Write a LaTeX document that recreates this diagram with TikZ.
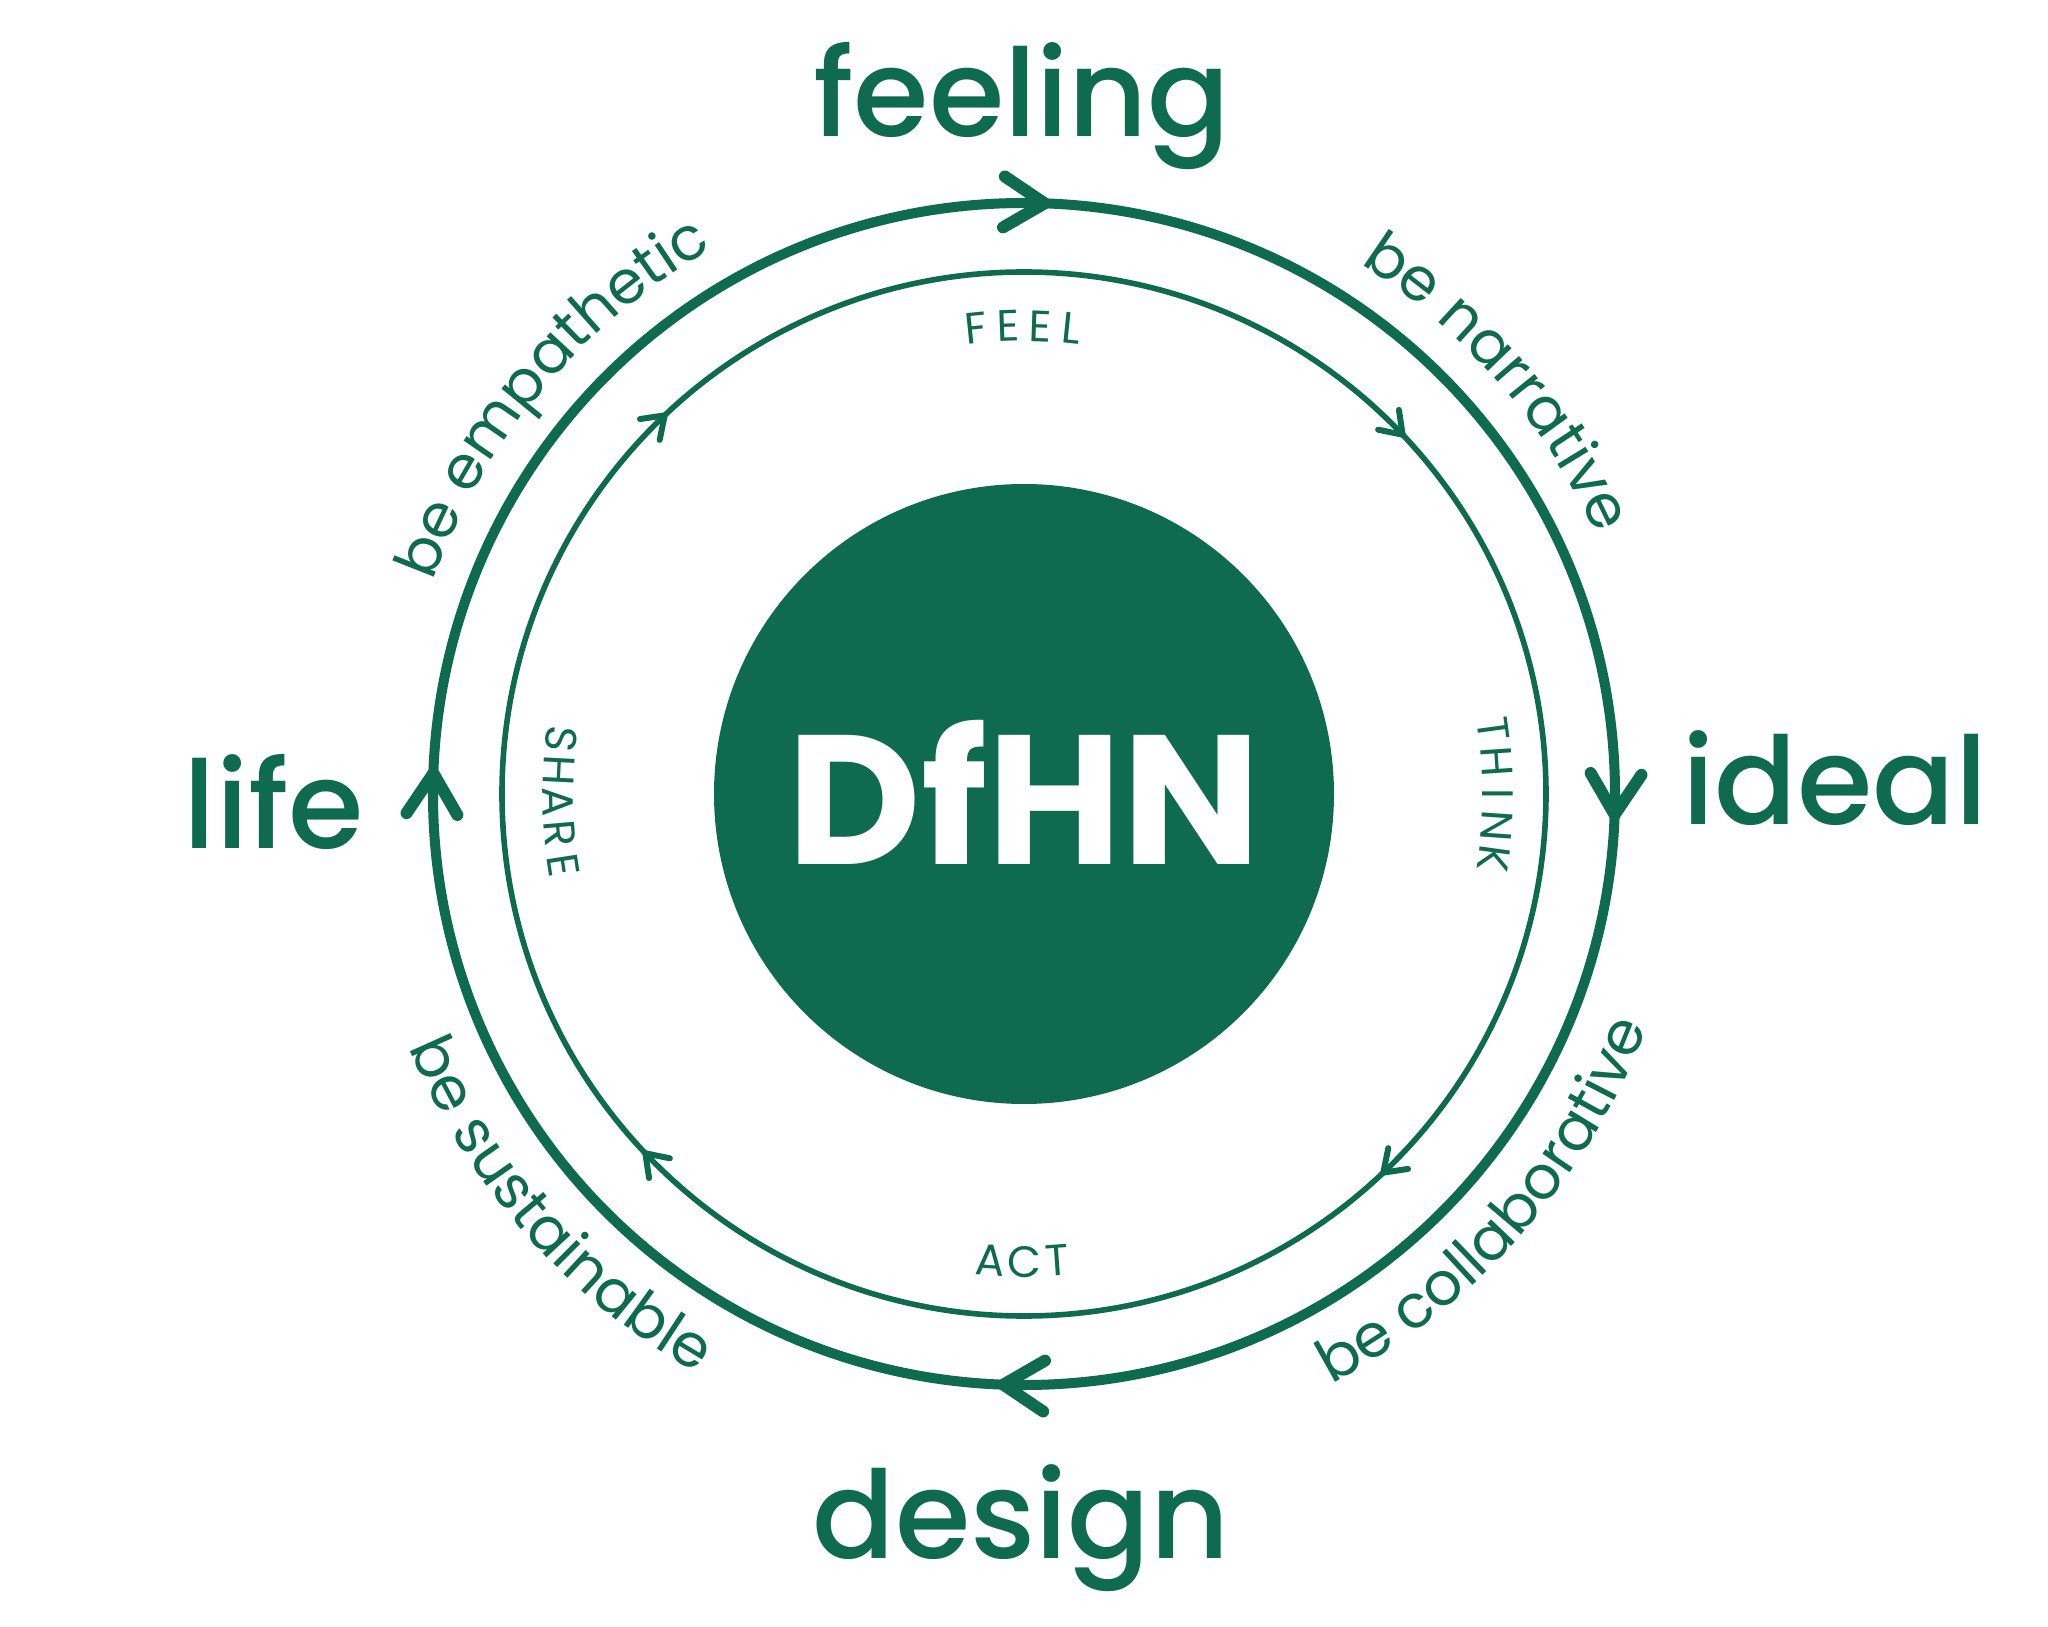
\documentclass[tikz,border=0pt]{standalone}
\usepackage{fontspec}
\setmainfont{Poppins}
\newfontfamily\medfont{Poppins}[UprightFont=* Medium]
\usetikzlibrary{decorations.text}
\definecolor{dfgreen}{RGB}{14,107,78}
\newcommand{\bigfont}{\medfont\fontsize{61}{70}\selectfont}
\newcommand{\smallfont}{\fontsize{22}{26}\selectfont}
\newcommand{\arcfont}{\color{dfgreen}\fontsize{30}{34}\selectfont}
\begin{document}
\begin{tikzpicture}[x=.5pt,y=.5pt,color=dfgreen]
\useasboundingbox (-1024,-832) rectangle (1024,794);
\tikzset{word/.style={font=\bigfont,anchor=base},
  letter/.style={font=\smallfont,inner sep=0pt}}
%
% disco central
\fill[dfgreen] (0,0) circle (310);
\node[text=white,font=\bfseries\fontsize{92}{100}\selectfont,anchor=base] (logo) at (0,-71) {DfHN};
%
% circulos y flechas
\draw[line width=5pt] (0,0) circle (591);
\draw[line width=2.8pt] (0,0) circle (522);
\foreach \a in {88,-2,-92,178}
\draw[line width=6pt,line cap=round,line join=round] (\a:591) ++(\a+122:48) -- (\a:591) -- ++(\a+58:48);
\foreach \a in {43.5,133.5,223.5,313.5}
\draw[line width=3pt,line cap=round,line join=round] (\a:522) ++(\a+125:25) -- (\a:522) -- ++(\a+55:25);
%
% palabras
\node[word] (feeling) at (-2,657) {feeling};
\node[word] (ideal) at (811,-31) {ideal};
\node[word] (life) at (-750,-55) {life};
\node[word] (design) at (-3,-764) {design};
%
% letras interiores
\foreach \ch [count=\i] in {F,E,E,L}
\node[letter,rotate={(2.5-\i)*3.9}] (feel-\i) at ({90+(2.5-\i)*3.9}:468) {\ch};
\foreach \ch [count=\i] in {T,H,I,N,K}
\node[letter,rotate={(3-\i)*3.9-90}] (think-\i) at ({(3-\i)*3.9}:474) {\ch};
\foreach \ch [count=\i] in {A,C,T}
\node[letter,rotate={(\i-2)*4.1}] (act-\i) at ({270+(\i-2)*4.1}:468) {\ch};
\foreach \ch [count=\i] in {S,H,A,R,E}
\node[letter,rotate={181+(\i-3)*3.9+90}] (share-\i) at ({181+(\i-3)*3.9}:466) {\ch};
%
% textos curvos
\path[decorate,decoration={text along path,text align=center,text={|\arcfont|be empathetic}}]
(180:628) arc[start angle=180,end angle=100,radius=628];
\path[decorate,decoration={text along path,text align=center,text={|\arcfont|be narrative}}]
(81:628) arc[start angle=81,end angle=1,radius=628];
\path[decorate,decoration={text along path,text align=center,text={|\arcfont|be collaborative}}]
(-86.5:665) arc[start angle=-86.5,end angle=3.5,radius=665];
\path[decorate,decoration={text along path,text align=center,text={|\arcfont|be sustainable}}]
(176.5:665) arc[start angle=176.5,end angle=266.5,radius=665];
\end{tikzpicture}
\end{document}
